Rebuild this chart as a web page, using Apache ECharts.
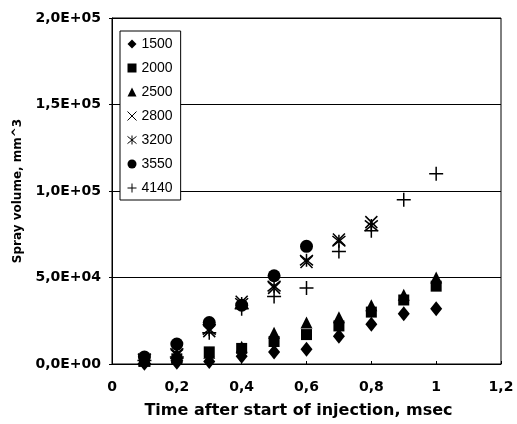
<!DOCTYPE html>
<html>
<head>
<meta charset="utf-8">
<script src="https://cdn.jsdelivr.net/npm/echarts@6/dist/echarts.min.js"></script>
<style>
  html, body { margin: 0; padding: 0; background: #fff; }
  #chart { width: 517px; height: 424px; }
</style>
</head>
<body>
<div id="chart"></div>
<script>
  // time after start of injection, msec
  var times = [0.1, 0.2, 0.3, 0.4, 0.5, 0.6, 0.7, 0.8, 0.9, 1.0];
  // spray volume, mm^3 (one list per injection pressure)
  var v1500 = [500, 1000, 1500, 4500, 7000, 8500, 16000, 23000, 29000, 32000];
  var v2000 = [1500, 3000, 7000, 9000, 13000, 17000, 22000, 30000, 37000, 45000];
  var v2500 = [2500, 6000, 6500, 10000, 18000, 24000, 27000, 34000, 40000, 50000];
  var v2800 = [2000, 5000, 19000, 36000, 44000, 59000, 72000, 82000];
  var v3200 = [3000, 6000, 20000, 35000, 45000, 60000, 71000, 80000];
  var v3550 = [4000, 11500, 24000, 34000, 51000, 68000];
  var v4140 = [2000, 4000, 18000, 32000, 39000, 44000, 65000, 77000, 95000, 110000];
  var names = ['1500', '2000', '2500', '2800', '3200', '3550', '4140'];

  var xPath = 'path://M0,0L10,10M10,0L0,10';
  var starPath = 'path://M0,1L10,9M10,1L0,9M5,0L5,10';
  var plusPath = 'path://M5,0L5,10M0,5L10,5';

  function pairs(vals) {
    var out = [];
    for (var i = 0; i < vals.length; i++) out.push([times[i], vals[i]]);
    return out;
  }

  // 150000 -> "1,5E+05"
  function sci(v) {
    if (v === 0) return '0,0E+00';
    var e = Math.floor(Math.log10(v) + 1e-9);
    var m = v / Math.pow(10, e);
    return m.toFixed(1).replace('.', ',') + 'E+' + (e < 10 ? '0' : '') + e;
  }

  var fill = { color: '#000', opacity: 1 };
  var line = { color: '#000', borderColor: '#000', borderWidth: 1.5, opacity: 1 };

  var myChart = echarts.init(document.getElementById('chart'));
  myChart.setOption({
    backgroundColor: '#fff',
    animation: false,
    textStyle: { fontFamily: 'DejaVu Sans', color: '#000' },
    grid: {
      left: 112, right: 16, top: 18, bottom: 57,
      show: true, borderColor: '#000', borderWidth: 1
    },
    legend: {
      orient: 'vertical',
      left: 120, top: 31,
      data: names,
      backgroundColor: '#fff',
      borderColor: '#000', borderWidth: 1,
      padding: [6, 8, 5, 7],
      itemWidth: 9, itemHeight: 9, itemGap: 10,
      itemStyle: { borderWidth: 1 },
      textStyle: { fontFamily: 'Liberation Sans', fontSize: 14, color: '#000' }
    },
    xAxis: {
      type: 'value', min: 0, max: 1.2, interval: 0.2,
      name: 'Time after start of injection, msec',
      nameLocation: 'middle', nameGap: 39,
      nameTextStyle: { fontSize: 16, fontWeight: 'bold', color: '#000', padding: [0, 16, 0, 0] },
      axisLine: { lineStyle: { color: '#000', width: 1 } },
      axisTick: { inside: true, length: 3, lineStyle: { color: '#000' } },
      axisLabel: {
        margin: 16, fontSize: 14, fontWeight: 'bold', color: '#000',
        formatter: function (v) { return String(+v.toFixed(1)).replace('.', ','); }
      },
      splitLine: { show: false }
    },
    yAxis: {
      type: 'value', min: 0, max: 200000, interval: 50000,
      name: 'Spray volume, mm^3',
      nameLocation: 'middle', nameGap: 88,
      nameTextStyle: { fontSize: 12, fontWeight: 'bold', color: '#000' },
      axisLine: { show: true, lineStyle: { color: '#000', width: 1 } },
      axisTick: { show: true, length: 3, lineStyle: { color: '#000' } },
      axisLabel: { margin: 11, fontSize: 14, fontWeight: 'bold', color: '#000', formatter: sci },
      splitLine: { show: true, lineStyle: { color: '#000', width: 1 } }
    },
    series: [
      { name: '1500', type: 'scatter', symbol: 'diamond', symbolSize: [12, 15], itemStyle: fill, data: pairs(v1500) },
      { name: '2000', type: 'scatter', symbol: 'rect', symbolSize: 11, itemStyle: fill, data: pairs(v2000) },
      { name: '2500', type: 'scatter', symbol: 'triangle', symbolSize: 12, itemStyle: fill, data: pairs(v2500) },
      { name: '2800', type: 'scatter', symbol: xPath, symbolSize: 12, itemStyle: line, data: pairs(v2800) },
      { name: '3200', type: 'scatter', symbol: starPath, symbolSize: 13, itemStyle: line, data: pairs(v3200) },
      { name: '3550', type: 'scatter', symbol: 'circle', symbolSize: 13, itemStyle: fill, data: pairs(v3550) },
      { name: '4140', type: 'scatter', symbol: plusPath, symbolSize: 14, itemStyle: line, data: pairs(v4140) }
    ]
  });
</script>
</body>
</html>
